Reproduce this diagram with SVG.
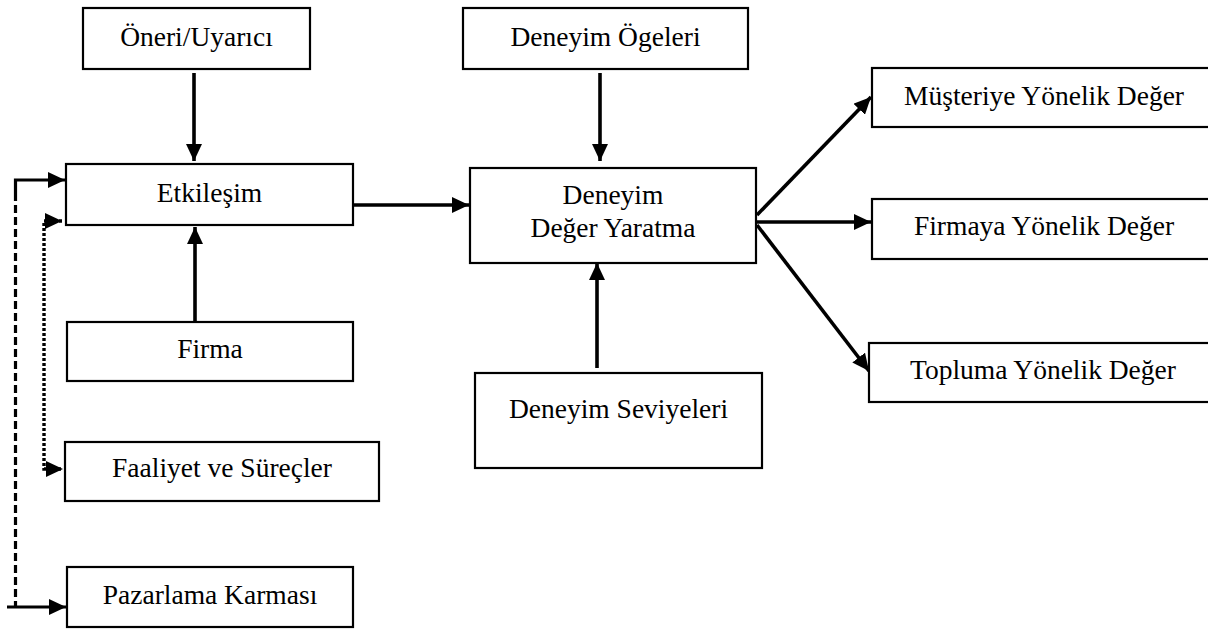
<svg xmlns="http://www.w3.org/2000/svg" width="1208" height="630" viewBox="0 0 1208 630">
<defs>
<style>
.box{fill:#fff;stroke:#000;stroke-width:2.2}
.lbl{font-family:"Liberation Serif","DejaVu Serif",serif;font-size:27.5px;fill:#000;text-anchor:middle}
.con{fill:none;stroke:#000;stroke-width:3.6}
.dash{fill:none;stroke:#000;stroke-width:3.2;stroke-dasharray:8 4}
.dot{fill:none;stroke:#000;stroke-width:3.4;stroke-dasharray:3 2}
</style>
<marker id="arr" markerUnits="userSpaceOnUse" markerWidth="17" markerHeight="16" refX="17" refY="8" orient="auto-start-reverse">
<path d="M0,0 L17,8 L0,16 Z" fill="#000"/>
</marker>
</defs>
<rect width="1208" height="630" fill="#fff"/>

<g id="connectors">
<line class="con" x1="194" y1="73" x2="194" y2="161" marker-end="url(#arr)"/>
<line class="con" x1="195" y1="321" x2="195" y2="227" marker-end="url(#arr)"/>
<line class="con" x1="353" y1="205" x2="469" y2="205" marker-end="url(#arr)"/>
<line class="con" x1="600" y1="73" x2="600" y2="161" marker-end="url(#arr)"/>
<line class="con" x1="597" y1="368" x2="597" y2="263" marker-end="url(#arr)"/>
<line class="con" x1="757" y1="215" x2="871" y2="97" marker-end="url(#arr)"/>
<line class="con" x1="757" y1="222" x2="871" y2="222" marker-end="url(#arr)"/>
<line class="con" x1="757" y1="225" x2="869" y2="371" marker-end="url(#arr)"/>
<path class="con" style="stroke-width:3.2" d="M15.5 193 V180 H65" marker-end="url(#arr)"/>
<path class="dash" d="M15.5 193 V606"/>
<path class="con" style="stroke-width:3.2" d="M7 607 H66" marker-end="url(#arr)"/>
<path class="dot" d="M62 221 H44 V469 H63" marker-start="url(#arr)" marker-end="url(#arr)"/>
</g>

<g id="oneri"><rect class="box" x="83" y="8" width="227" height="61"/><text class="lbl" x="196.5" y="46">Öneri/Uyarıcı</text></g>
<g id="etkilesim"><rect class="box" x="66" y="164" width="287" height="61"/><text class="lbl" x="209.5" y="202">Etkileşim</text></g>
<g id="firma"><rect class="box" x="67" y="322" width="286" height="59"/><text class="lbl" x="210" y="358">Firma</text></g>
<g id="faaliyet"><rect class="box" x="65" y="442" width="314" height="59"/><text class="lbl" x="222" y="477">Faaliyet ve Süreçler</text></g>
<g id="pazarlama"><rect class="box" x="67" y="567" width="286" height="60"/><text class="lbl" x="210" y="604">Pazarlama Karması</text></g>
<g id="ogeler"><rect class="box" x="463" y="8" width="285" height="61"/><text class="lbl" x="605.5" y="46">Deneyim Ögeleri</text></g>
<g id="deger-yaratma"><rect class="box" x="470" y="168" width="286" height="95"/><text class="lbl" x="613" y="204">Deneyim</text><text class="lbl" x="613" y="237">Değer Yaratma</text></g>
<g id="seviyeler"><rect class="box" x="475" y="373" width="287" height="95"/><text class="lbl" x="618.5" y="418">Deneyim Seviyeleri</text></g>
<g id="musteri"><rect class="box" x="872" y="68" width="344" height="59"/><text class="lbl" x="1044" y="105">Müşteriye Yönelik Değer</text></g>
<g id="firmaya"><rect class="box" x="872" y="199" width="344" height="60"/><text class="lbl" x="1044" y="235">Firmaya Yönelik Değer</text></g>
<g id="topluma"><rect class="box" x="869" y="343" width="347" height="59"/><text class="lbl" x="1043" y="379">Topluma Yönelik Değer</text></g>
</svg>
